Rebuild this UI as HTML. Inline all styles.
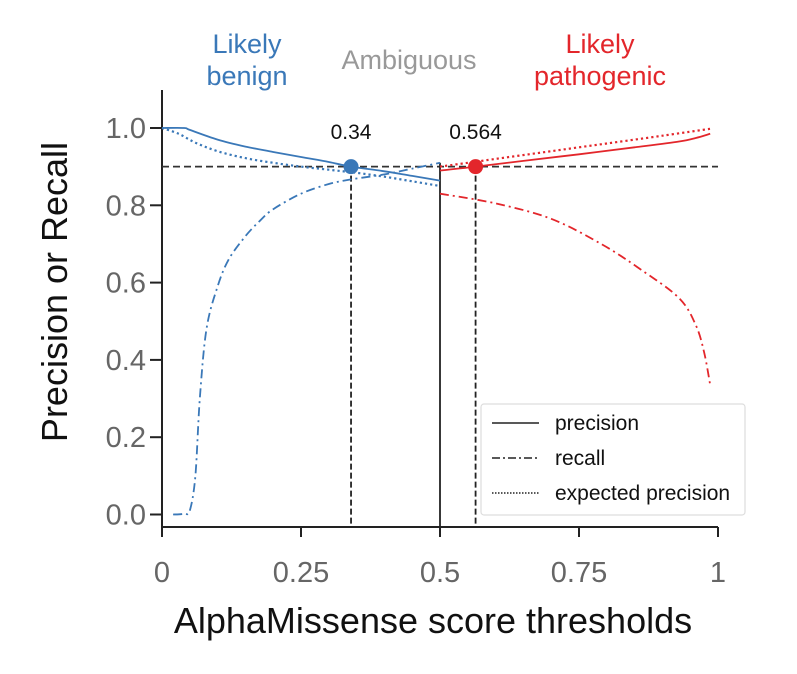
<!DOCTYPE html>
<html><head><meta charset="utf-8"><style>
body{margin:0;background:#fff}
svg{display:block;font-family:"Liberation Sans",sans-serif}
</style></head><body>
<svg id="chart" width="797" height="674">
<g id="plot"></g>
</svg>
<script>
const xTicks=[0,0.25,0.5,0.75,1];
const xTickLabels=["0","0.25","0.5","0.75","1"];
const yTicks=[0,0.2,0.4,0.6,0.8,1.0];
const yTickLabels=["0.0","0.2","0.4","0.6","0.8","1.0"];
const benignPrecX=[0.0,0.04,0.05,0.1,0.15,0.2,0.25,0.3,0.34,0.4,0.45,0.5];
const benignPrecY=[1.0,1.0,0.995,0.97,0.952,0.938,0.925,0.912,0.9,0.888,0.876,0.864];
const benignExpX=[0.0,0.03,0.06,0.1,0.15,0.2,0.25,0.3,0.35,0.4,0.45,0.5];
const benignExpY=[1.0,0.985,0.962,0.94,0.922,0.91,0.9,0.892,0.884,0.874,0.862,0.85];
const benignRecX=[0.02,0.04,0.05,0.06,0.068,0.08,0.1,0.12,0.15,0.176,0.2,0.25,0.3,0.34,0.4,0.45,0.5];
const benignRecY=[0.0,0.002,0.01,0.1,0.3,0.48,0.59,0.66,0.72,0.76,0.79,0.83,0.855,0.867,0.88,0.895,0.91];
const pathPrecX=[0.5,0.564,0.65,0.75,0.85,0.93,0.96,0.986];
const pathPrecY=[0.89,0.9,0.915,0.932,0.95,0.965,0.974,0.985];
const pathExpX=[0.5,0.6,0.7,0.8,0.9,0.986];
const pathExpY=[0.9,0.92,0.94,0.96,0.98,0.998];
const pathRecX=[0.5,0.6,0.7,0.79,0.86,0.93,0.96,0.975,0.986];
const pathRecY=[0.83,0.805,0.765,0.7,0.635,0.56,0.49,0.42,0.335];
const thresholds=[0.34,0.564];
const thresholdLabels=["0.34","0.564"];
const targetPrecision=0.9;
const ambiguousBoundary=0.5;

const NS="http://www.w3.org/2000/svg";
const g=document.getElementById('plot');
const X0=162,XW=556,Y0=514.5,YH=386.5;
const sx=v=>X0+v*XW, sy=v=>Y0-v*YH;
function mk(tag,attrs,txt){const e=document.createElementNS(NS,tag);for(const k in attrs)e.setAttribute(k,attrs[k]);if(txt!==undefined)e.textContent=txt;g.appendChild(e);return e;}
const BLUE="#3a78b8",RED="#e3262b";
let e=mk('line',{x1:X0,y1:90,x2:X0,y2:527,stroke:'#222','stroke-width':2});


e=mk('line',{x1:X0-1,y1:527,x2:718,y2:527,stroke:'#222','stroke-width':2});


xTicks.forEach((t,i)=>{
 let l=mk('line',{x1:sx(t),y1:527,x2:sx(t),y2:537,stroke:'#222','stroke-width':2});
 
 
 let tx=mk('text',{x:sx(t),y:582,'text-anchor':'middle','font-size':29,fill:'#666'},xTickLabels[i]);
 
 
});
yTicks.forEach((t,i)=>{
 let l=mk('line',{x1:X0-12,y1:sy(t),x2:X0,y2:sy(t),stroke:'#222','stroke-width':2});
 
 
 let tx=mk('text',{x:X0-16,y:sy(t)+10,'text-anchor':'end','font-size':29,fill:'#666'},yTickLabels[i]);
 
 
});
e=mk('text',{x:433,y:633,'text-anchor':'middle','font-size':36,fill:'#111'},'AlphaMissense score thresholds');


e=mk('text',{x:67,y:292,'text-anchor':'middle','font-size':36,fill:'#111',transform:'rotate(-90 67 292)'},'Precision or Recall');


e=mk('line',{x1:X0,y1:sy(targetPrecision),x2:718,y2:sy(targetPrecision),stroke:'#333','stroke-width':1.8,'stroke-dasharray':'7,4'});


e=mk('line',{x1:sx(ambiguousBoundary),y1:sy(0.91),x2:sx(ambiguousBoundary),y2:527,stroke:'#222','stroke-width':1.8});


thresholds.forEach((t,i)=>{
 let l=mk('line',{x1:sx(t),y1:sy(targetPrecision),x2:sx(t),y2:527,stroke:'#222','stroke-width':1.8,'stroke-dasharray':'6,3'});
 
 
});
function path(xs,ys,color,dash,w,name){
 const P=xs.map((x,i)=>[sx(x),sy(ys[i])]);
 let d='M'+P[0][0].toFixed(1)+','+P[0][1].toFixed(1);
 for(let i=0;i<P.length-1;i++){
  const p0=P[Math.max(0,i-1)],p1=P[i],p2=P[i+1],p3=P[Math.min(P.length-1,i+2)];
  const c1=[p1[0]+(p2[0]-p0[0])/6,p1[1]+(p2[1]-p0[1])/6];
  const c2=[p2[0]-(p3[0]-p1[0])/6,p2[1]-(p3[1]-p1[1])/6];
  d+='C'+c1.map(v=>v.toFixed(1)).join(',')+' '+c2.map(v=>v.toFixed(1)).join(',')+' '+p2.map(v=>v.toFixed(1)).join(',');
 }
 const a={d:d,fill:'none',stroke:color,'stroke-width':w};
 if(dash)a['stroke-dasharray']=dash;
 const p=mk('path',a);
 
 
}
const DD='9,4,2,4',DOT='2.2,3';
path(benignPrecX,benignPrecY,BLUE,null,1.8,'benign-precision-line');
path(benignExpX,benignExpY,BLUE,DOT,2.2,'benign-expected-precision-line');
path(benignRecX,benignRecY,BLUE,DD,1.8,'benign-recall-line');
path(pathPrecX,pathPrecY,RED,null,1.8,'pathogenic-precision-line');
path(pathExpX,pathExpY,RED,DOT,2.2,'pathogenic-expected-precision-line');
path(pathRecX,pathRecY,RED,DD,1.8,'pathogenic-recall-line');
[BLUE,RED].forEach((c,i)=>{
 let ci=mk('circle',{cx:sx(thresholds[i]),cy:sy(targetPrecision),r:7.5,fill:c});
 
 
 let tx=mk('text',{x:sx(thresholds[i]),y:139,'text-anchor':'middle','font-size':21,fill:'#111'},thresholdLabels[i]);
 
 
});
[['Likely','benign',247,BLUE,'benign-region-label'],['Likely','pathogenic',600,RED,'pathogenic-region-label']].forEach(r=>{
 let a=mk('text',{x:r[2],y:53,'text-anchor':'middle','font-size':27,fill:r[3]},r[0]);
 
 
 let b=mk('text',{x:r[2],y:85,'text-anchor':'middle','font-size':27,fill:r[3]},r[1]);
 
 
});
e=mk('text',{x:409,y:69,'text-anchor':'middle','font-size':27,fill:'#999'},'Ambiguous');


e=mk('rect',{x:481,y:404,width:264,height:111,rx:3,fill:'#fff',stroke:'#ddd','stroke-width':1.2});


[['precision',null],['recall',DD],['expected precision',DOT]].forEach((it,i)=>{
 const y=423+i*35;
 const a={x1:492,y1:y,x2:539,y2:y,stroke:'#222','stroke-width':1.6};
 if(it[1])a['stroke-dasharray']=it[1]===DOT?'1.5,1.5':'8,3,2,3';
 let l=mk('line',a);
 
 
 let t=mk('text',{x:555,y:y+7,'font-size':21,fill:'#111'},it[0]);
 
 
});
</script>
</body></html>
